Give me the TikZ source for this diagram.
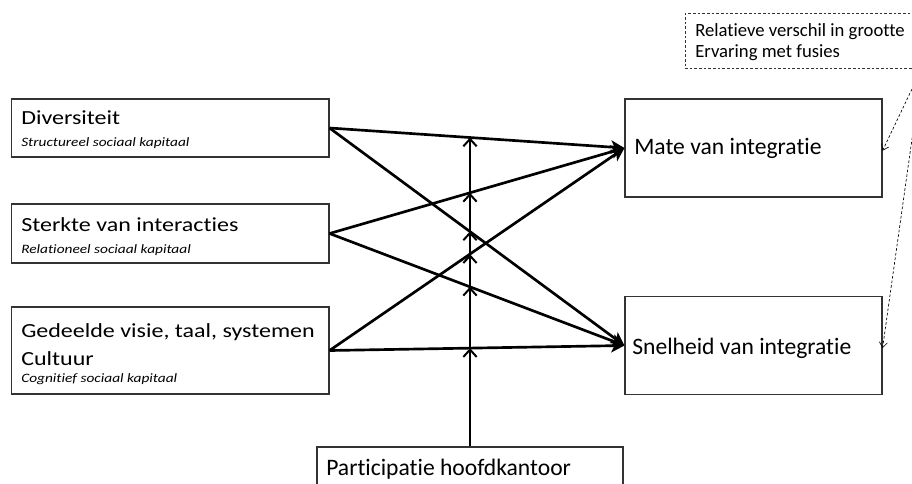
\documentclass[tikz,border=0pt]{standalone}
\usepackage{fontspec}
\setmainfont{Carlito}[Ligatures=CommonOff]
\newfontfamily\widefont{Carlito}[FakeStretch=1.2,Ligatures=CommonOff]
\usetikzlibrary{arrows.meta}
\begin{document}
\begin{tikzpicture}[x=0.75pt,y=-0.75pt,
  box/.style={draw=black!80,line width=0.8pt,inner sep=0pt},
  lbox/.style={box,minimum width=238.1pt},
  rbox/.style={box,minimum width=192.75pt},
  txt/.style={anchor=base west,inner sep=0pt},
  ltitle/.style={txt,font=\widefont\fontsize{15}{18}\selectfont},
  lsub/.style={txt,font=\widefont\fontsize{9.6}{11}\selectfont\itshape},
  rtitle/.style={txt,font=\fontsize{17.7}{21}\selectfont},
  ctext/.style={txt,font=\fontsize{14}{16}\selectfont},
  link/.style={line width=2pt,-{Stealth[length=10pt,width=10pt,inset=2.5pt]}},
  modlink/.style={line width=1.5pt,-{Straight Barb[length=5.5pt,width=10pt]}},
  dashlink/.style={line width=0.5pt,dash pattern=on 2pt off 1.5pt,-{Straight Barb[length=4pt,width=6pt]}}]
\useasboundingbox (0,0) rectangle (912,483);
\clip (0,0) rectangle (912,483);
% left boxes
\node[lbox,minimum height=43.5pt] (D) at (170.25,128) {};
\node[ltitle] (Dt) at (21,124.5) {Diversiteit};
\node[lsub] (Ds) at (21,146) {Structureel sociaal kapitaal};
\node[lbox,minimum height=44.25pt] (S) at (170.25,233.5) {};
\node[ltitle] (St) at (21,231) {Sterkte van interacties};
\node[lsub] (Ss) at (21,253) {Relationeel sociaal kapitaal};
\node[lbox,minimum height=65.25pt] (G) at (170.25,350.5) {};
\node[ltitle] (Gt) at (21,337) {Gedeelde visie, taal, systemen};
\node[ltitle] (Gc) at (21,365) {Cultuur};
\node[lsub] (Gs) at (21,382) {Cognitief sociaal kapitaal};
% right boxes
\node[rbox,minimum height=73.5pt] (M) at (753.5,148) {};
\node[rtitle] (Mt) at (634,154) {Mate van integratie};
\node[rbox,minimum height=73.1pt] (N) at (753.5,345.5) {};
\node[rtitle] (Nt) at (632,354) {Snelheid van integratie};
% bottom box
\node[box,minimum width=229.5pt,minimum height=37.5pt] (P) at (470,472) {};
\node[rtitle] (Pt) at (326,475) {Participatie hoofdkantoor};
% dashed box
\node[draw=black!80,dash pattern=on 2pt off 1.5pt,line width=0.5pt,inner sep=0pt,minimum width=198.75pt,minimum height=40.9pt] (C) at (817.5,40.75) {};
\node[ctext] (Ct1) at (695,36.7) {Relatieve verschil in grootte};
\node[ctext] (Ct2) at (695,57) {Ervaring met fusies};
\coordinate (c0) at (922,68);
% main links
\draw[link] (D.east) -- coordinate[pos=0.4755] (x1) (M.west);
\draw[link] (D.east) -- coordinate[pos=0.4755] (x2) (N.west);
\draw[link] (S.east) -- coordinate[pos=0.4755] (x3) (M.west);
\draw[link] (S.east) -- coordinate[pos=0.4755] (x4) (N.west);
\draw[link] (G.east) -- coordinate[pos=0.4755] (x5) (M.west);
\draw[link] (G.east) -- coordinate[pos=0.4755] (x6) (N.west);
% moderator
\foreach \i in {1,...,6} {\draw[modlink] (P.north) -- (P.north |- x\i);}
% dashed
\draw[dashlink] (c0) -- ([yshift=-2pt]M.east);
\draw[dashlink] (c0) -- ([yshift=-2pt]N.east);
\end{tikzpicture}
\end{document}
